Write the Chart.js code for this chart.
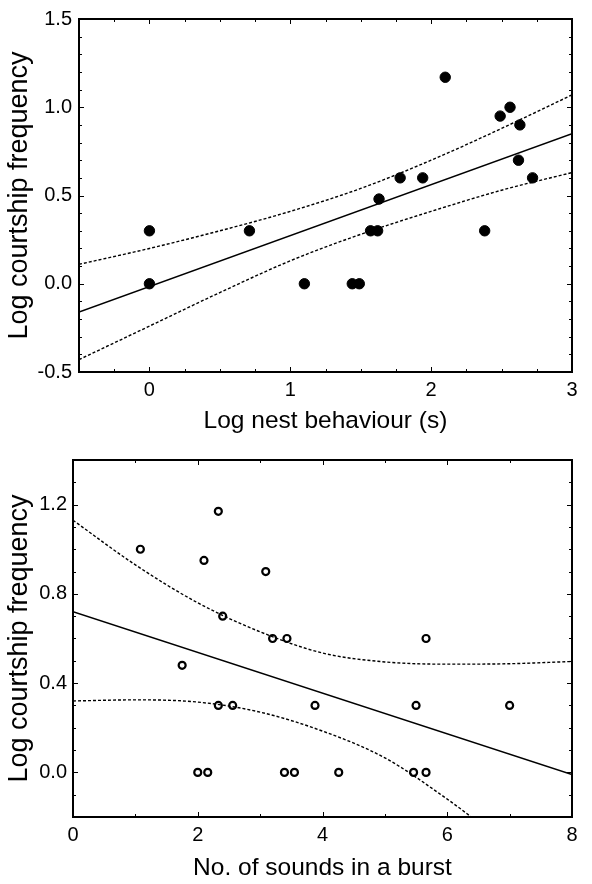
<!DOCTYPE html>
<html>
<head>
<meta charset="utf-8">
<script src="https://cdn.jsdelivr.net/npm/chart.js@4/dist/chart.umd.min.js"></script>
<style>
  body { margin: 0; background: #fff; }
  canvas { display: block; }
</style>
</head>
<body>
<canvas id="topChart" width="592" height="442"></canvas>
<canvas id="bottomChart" width="592" height="442"></canvas>
<script>
// top panel: nest behaviour
const nestX = [0, 0, 0.71, 1.10, 1.44, 1.49, 1.57, 1.62, 1.63, 1.78, 1.94, 2.10, 2.38, 2.49, 2.56, 2.63, 2.62, 2.72];
const nestY = [0.30, 0.0, 0.30, 0.0, 0.0, 0.0, 0.30, 0.30, 0.48, 0.60, 0.60, 1.17, 0.30, 0.95, 1.00, 0.90, 0.70, 0.60];
const nestFitX = [-0.5, 3];
const nestFitY = [-0.16, 0.85];
const nestBandX = [-0.5, 0, 0.5, 1, 1.5, 2, 2.5, 3];
const nestUpper = [0.11, 0.20, 0.30, 0.41, 0.54, 0.70, 0.88, 1.07];
const nestLower = [-0.43, -0.24, -0.05, 0.13, 0.28, 0.41, 0.53, 0.63];
const nestXTicks = [0, 1, 2, 3];
const nestYTicks = [-0.5, 0.0, 0.5, 1.0, 1.5];

// bottom panel: sounds in a burst
const soundX = [1.08, 2.33, 2.10, 3.09, 2.40, 3.20, 3.43, 5.66, 1.75, 2.33, 2.56, 3.88, 5.50, 7.00, 2.00, 2.16, 3.39, 3.55, 4.26, 5.46, 5.66];
const soundY = [1.00, 1.17, 0.95, 0.90, 0.70, 0.60, 0.60, 0.60, 0.48, 0.30, 0.30, 0.30, 0.30, 0.30, 0.0, 0.0, 0.0, 0.0, 0.0, 0.0, 0.0];
const soundFitX = [0, 8];
const soundFitY = [0.72, -0.01];
const soundBandX = [0, 1, 2, 3, 4, 5, 6, 7, 8];
const soundUpper = [1.13, 0.93, 0.76, 0.63, 0.535, 0.495, 0.485, 0.487, 0.497];
const soundLower = [0.32, 0.325, 0.315, 0.27, 0.185, 0.065, -0.12, -0.33, -0.52];
const soundXTicks = [0, 2, 4, 6, 8];
const soundYTicks = [0.0, 0.4, 0.8, 1.2];

const pts = (xs, ys) => xs.map((x, i) => ({x: x, y: ys[i]}));

// frame + inward tick marks on all four sides
const frameTicks = {
  id: 'frameTicks',
  afterDatasetsDraw(chart, args, opts) {
    const {ctx, chartArea: a, scales: {x, y}} = chart;
    ctx.save();
    ctx.strokeStyle = '#000';
    ctx.lineWidth = 1;
    const isMajor = (v, step) => Math.abs(v / step - Math.round(v / step)) < 1e-6;
    const nx = Math.round((x.max - x.min) / opts.xMinor);
    for (let i = 0; i <= nx; i++) {
      const v = x.min + i * opts.xMinor;
      const px = Math.round(x.getPixelForValue(v)) + 0.5;
      const len = isMajor(v, opts.xMajor) ? 5 : 3;
      ctx.beginPath();
      ctx.moveTo(px, a.bottom); ctx.lineTo(px, a.bottom - len);
      ctx.moveTo(px, a.top); ctx.lineTo(px, a.top + len);
      ctx.stroke();
    }
    const ny = Math.round((y.max - y.min) / opts.yMinor);
    for (let i = 0; i <= ny; i++) {
      const v = y.min + i * opts.yMinor;
      const py = Math.round(y.getPixelForValue(v)) + 0.5;
      const len = isMajor(v, opts.yMajor) ? 5 : 3;
      ctx.beginPath();
      ctx.moveTo(a.left, py); ctx.lineTo(a.left + len, py);
      ctx.moveTo(a.right, py); ctx.lineTo(a.right - len, py);
      ctx.stroke();
    }
    ctx.lineWidth = 2;
    ctx.strokeRect(a.left, a.top, a.width, a.height);
    ctx.restore();
  }
};

const fam = 'Liberation Sans, Arial, sans-serif';
const tickFont = {family: fam, size: 20};
const xTitleFont = {family: fam, size: 24.5};
const yTitleFont = {family: fam, size: 27};

function makeChart(id, cfg) {
  const ctx = document.getElementById(id).getContext('2d');
  return new Chart(ctx, {
    type: 'scatter',
    data: {
      datasets: [
        {
          data: pts(cfg.px, cfg.py),
          pointRadius: cfg.hollow ? 3.5 : 5.2,
          pointBorderWidth: cfg.hollow ? 2.2 : 1,
          pointBackgroundColor: cfg.hollow ? 'rgba(0,0,0,0)' : '#000',
          pointBorderColor: '#000'
        },
        {
          data: pts(cfg.fitX, cfg.fitY),
          showLine: true, pointRadius: 0,
          borderColor: '#000', borderWidth: 1.6
        },
        {
          data: pts(cfg.bandX, cfg.upper),
          showLine: true, pointRadius: 0, cubicInterpolationMode: 'monotone',
          borderColor: '#000', borderWidth: 1.4, borderDash: [3, 2]
        },
        {
          data: pts(cfg.bandX, cfg.lower),
          showLine: true, pointRadius: 0, cubicInterpolationMode: 'monotone',
          borderColor: '#000', borderWidth: 1.4, borderDash: [3, 2]
        }
      ]
    },
    options: {
      responsive: false,
      animation: false,
      layout: {padding: {left: 0, right: 20, top: cfg.top, bottom: 0}},
      plugins: {
        legend: {display: false},
        tooltip: {enabled: false},
        frameTicks: cfg.ticks
      },
      scales: {
        x: {
          type: 'linear',
          min: cfg.xMin, max: cfg.xMax,
          grid: {display: false, drawTicks: false},
          border: {display: false},
          afterFit: s => { s.height = cfg.xHeight; },
          afterBuildTicks: s => { s.ticks = cfg.xTicks.map(v => ({value: v})); },
          ticks: {color: '#000', font: tickFont, padding: 6, maxRotation: 0,
                  callback: v => String(v)},
          title: {display: true, text: cfg.xTitle, color: '#000', font: xTitleFont,
                  padding: {top: 0, bottom: cfg.xTitlePad}}
        },
        y: {
          type: 'linear',
          min: cfg.yMin, max: cfg.yMax,
          grid: {display: false, drawTicks: false},
          border: {display: false},
          afterFit: s => { s.width = cfg.yWidth; },
          afterBuildTicks: s => { s.ticks = cfg.yTicks.map(v => ({value: v})); },
          ticks: {color: '#000', font: tickFont, padding: cfg.yPad,
                  callback: v => Number(v).toFixed(1)},
          title: {display: true, text: 'Log courtship frequency', color: '#000', font: yTitleFont,
                  padding: {top: cfg.yTitlePad, bottom: 0}}
        }
      }
    },
    plugins: [frameTicks]
  });
}

makeChart('topChart', {
  px: nestX, py: nestY, hollow: false,
  fitX: nestFitX, fitY: nestFitY,
  bandX: nestBandX, upper: nestUpper, lower: nestLower,
  xMin: -0.5, xMax: 3, yMin: -0.5, yMax: 1.5,
  xTicks: nestXTicks, yTicks: nestYTicks,
  xTitle: 'Log nest behaviour (s)',
  top: 14, xHeight: 70, yWidth: 79, yPad: 7, xTitlePad: 6, yTitlePad: 3,
  ticks: {xMinor: 0.25, xMajor: 1, yMinor: 0.1, yMajor: 0.5}
});

makeChart('bottomChart', {
  px: soundX, py: soundY, hollow: true,
  fitX: soundFitX, fitY: soundFitY,
  bandX: soundBandX, upper: soundUpper, lower: soundLower,
  xMin: 0, xMax: 8, yMin: -0.2, yMax: 1.4,
  xTicks: soundXTicks, yTicks: soundYTicks,
  xTitle: 'No. of sounds in a burst',
  top: 18, xHeight: 67, yWidth: 73, yPad: 6, xTitlePad: 1, yTitlePad: 3,
  ticks: {xMinor: 1, xMajor: 2, yMinor: 0.1, yMajor: 0.4}
});
</script>
</body>
</html>
